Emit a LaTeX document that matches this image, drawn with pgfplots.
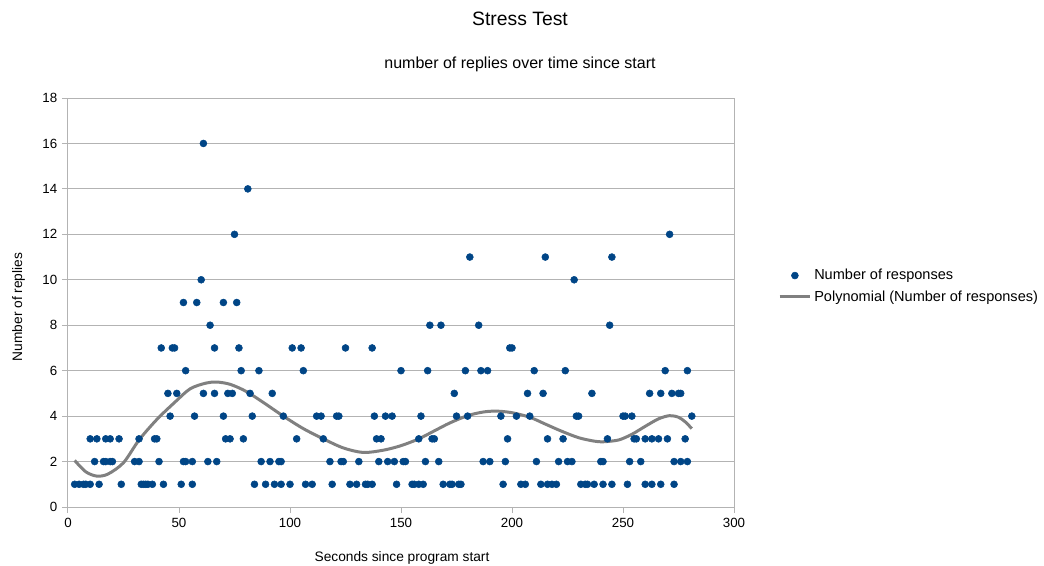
\documentclass[border=0pt]{standalone}
\usepackage{fontspec}
\setmainfont{Liberation Sans}
\usepackage{pgfplots}
\pgfplotsset{compat=1.18}
\definecolor{dotblue}{HTML}{004586}
\definecolor{gridgray}{HTML}{B3B3B3}
\definecolor{trendgray}{HTML}{808080}
\pgfplotsset{
  dotlegend/.style={legend image code/.code={\draw[##1] plot coordinates {(0.4cm,0cm)};}},
  linelegend/.style={legend image code/.code={\draw[##1] (0cm,0cm) -- (0.8cm,0cm);}},
}

\begin{document}
\begin{tikzpicture}
\useasboundingbox (-51pt,-43.5pt) rectangle (732pt,380.25pt);
\begin{axis}[
  at={(0,0)}, anchor=south west,
  scale only axis, width=499.5pt, height=306.75pt,
  xmin=0, xmax=300, ymin=0, ymax=18,
  xtick={0,50,...,300}, ytick={0,2,...,18},
  ymajorgrids, grid style={gridgray, line width=0.75pt},
  axis line style={gridgray, line width=0.75pt},
  tick style={gridgray, line width=0.75pt},
  tick align=outside, major tick length=4.5pt,
  xtick pos=left, ytick pos=left,
  ticklabel style={font=\fontsize{10}{12}\selectfont, text=black},
  /pgf/number format/assume math mode=true,
  legend style={at={(axis description cs:1.06,0.54)}, anchor=west, draw=none, fill=none,
    font=\fontsize{10.9}{12}\selectfont, row sep=2.5pt, cells={anchor=west}},
]
\addplot[only marks, mark=*, mark size=2.6pt, color=dotblue, dotlegend]
coordinates {
(3,1)(5,1)(7,1)(8,1)(10,1)(14,1)(24,1)(33,1)(34,1)(35,1)(36,1)(38,1)(43,1)(51,1)(56,1)
(84,1)(89,1)(93,1)(96,1)(100,1)(107,1)(110,1)(119,1)(127,1)(130,1)(134,1)(135,1)(137,1)
(148,1)(155,1)(156,1)(158,1)(160,1)(169,1)(172,1)(173,1)(176,1)(177,1)(196,1)(204,1)
(206,1)(213,1)(216,1)(218,1)(220,1)(231,1)(233,1)(234,1)(237,1)(241,1)(245,1)(252,1)
(260,1)(263,1)(267,1)(273,1)
(12,2)(16,2)(17,2)(19,2)(20,2)(30,2)(32,2)(41,2)(52,2)(53,2)(56,2)(63,2)(67,2)(87,2)
(91,2)(95,2)(96,2)(118,2)(123,2)(124,2)(131,2)(140,2)(144,2)(147,2)(151,2)(152,2)
(161,2)(167,2)(187,2)(190,2)(197,2)(211,2)(221,2)(225,2)(227,2)(240,2)(241,2)(253,2)
(258,2)(273,2)(276,2)(279,2)
(10,3)(13,3)(17,3)(19,3)(23,3)(32,3)(39,3)(40,3)(71,3)(73,3)(79,3)(103,3)(115,3)
(139,3)(141,3)(158,3)(164,3)(165,3)(198,3)(216,3)(223,3)(243,3)(255,3)(256,3)(260,3)
(263,3)(266,3)(270,3)(278,3)
(46,4)(57,4)(70,4)(83,4)(97,4)(112,4)(114,4)(121,4)(122,4)(138,4)(143,4)(146,4)
(159,4)(175,4)(180,4)(195,4)(202,4)(208,4)(229,4)(230,4)(250,4)(251,4)(254,4)(281,4)
(45,5)(49,5)(61,5)(66,5)(72,5)(74,5)(82,5)(92,5)(174,5)(207,5)(214,5)(236,5)(262,5)
(267,5)(272,5)(275,5)(276,5)
(53,6)(78,6)(86,6)(106,6)(150,6)(162,6)(179,6)(186,6)(189,6)(210,6)(224,6)(269,6)(279,6)
(42,7)(47,7)(48,7)(66,7)(77,7)(101,7)(105,7)(125,7)(137,7)(199,7)(200,7)
(64,8)(163,8)(168,8)(185,8)(244,8)
(52,9)(58,9)(70,9)(76,9)
(60,10)(228,10)
(181,11)(215,11)(245,11)
(75,12)(271,12)
(81,14)
(61,16)
};
\addlegendentry{Number of responses}
\addplot[trendgray, line width=2.25pt, smooth, no marks, linelegend]
coordinates {
(3,2.05)(8,1.55)(13,1.36)(18,1.45)(25,1.95)(32,2.95)(40,3.85)(48,4.6)(55,5.2)(62,5.45)
(67,5.5)(73,5.4)(80,5.1)(88,4.6)(97,4.0)(106,3.45)(115,3.0)(124,2.6)(133,2.4)(142,2.5)
(150,2.7)(158,3.0)(165,3.35)(172,3.7)(180,4.02)(187,4.18)(193,4.22)(200,4.15)(208,3.95)
(215,3.65)(222,3.35)(230,3.05)(237,2.9)(241,2.87)(248,2.95)(254,3.2)(260,3.55)(266,3.88)
(271,4.02)(275,3.95)(278,3.75)(281,3.45)
};
\addlegendentry{Polynomial (Number of responses)}
\end{axis}
\node[font=\fontsize{14.5}{16}\selectfont] at (339pt,366pt) {Stress Test};
\node[font=\fontsize{12}{14}\selectfont] at (339pt,332pt) {number of replies over time since start};
\node[font=\fontsize{10.3}{12}\selectfont] at (250.5pt,-38.5pt) {Seconds since program start};
\node[font=\fontsize{10.3}{12}\selectfont, rotate=90] at (-37pt,150pt) {Number of replies};
\end{tikzpicture}
\end{document}
